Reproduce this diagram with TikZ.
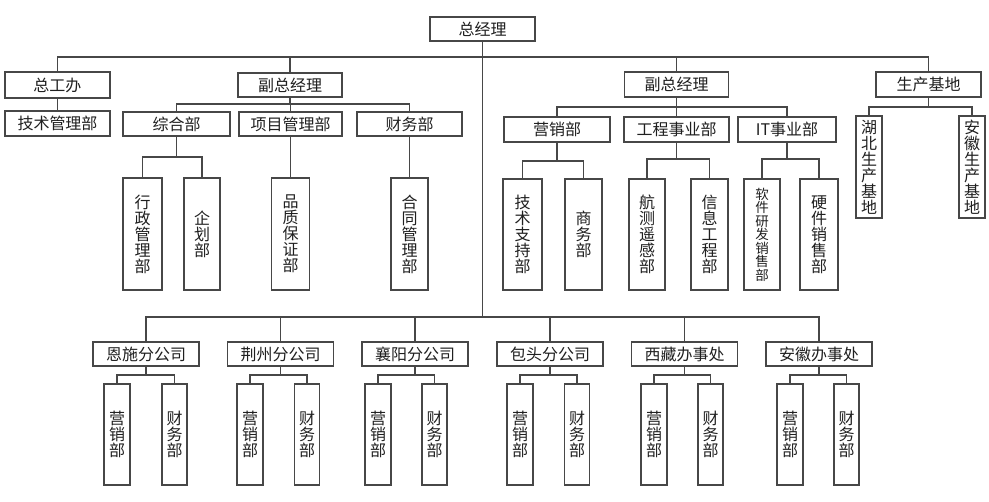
\documentclass[tikz,border=0pt]{standalone}
\usepackage{fontspec}
\newfontfamily\cjk{Noto Sans CJK SC}
\begin{document}
\begin{tikzpicture}[x=1pt,y=-1pt,
  ln/.style={draw=black!72,line width=1.1pt},
  bx/.style={draw=black!72,line width=1.1pt,fill=white,inner sep=0pt,align=center,
    text=black!88,font=\cjk\fontsize{16}{16}\selectfont},
  hb/.style={bx,minimum width=105pt,minimum height=24pt},
  vb/.style={bx,minimum width=37pt,minimum height=111pt},
  sb/.style={bx,minimum width=26pt,minimum height=101pt}]
\useasboundingbox[fill=white] (0,0) rectangle (989,502);
% buses
\coordinate (b0) at (0,57);
\coordinate (b3) at (0,317);
\coordinate (bl) at (0,104);
\coordinate (bzh) at (0,157);
\coordinate (br) at (0,107);
\coordinate (byx) at (0,161);
\coordinate (bgc) at (0,159);
\coordinate (bs) at (0,375);
% top
\node[hb,minimum width=105pt] (zjl) at (482.5,29) {总经理};
\node[hb,minimum height=26pt] (zgb) at (57.5,85) {总工办};
\node[hb,minimum height=25pt] (jsgl) at (57.5,123.5) {技术管理部};
\node[hb,minimum width=104pt] (fzl) at (290,85) {副总经理};
\node[hb,minimum width=107pt] (zhb) at (176.5,124) {综合部};
\node[hb,minimum width=103pt] (xmgl) at (290.5,124) {项目管理部};
\node[hb] (cwb) at (409.5,124) {财务部};
\node[vb,minimum width=39pt,minimum height=112pt] (xzgl) at (142.5,234) {行\\政\\管\\理\\部};
\node[vb,minimum width=36pt,minimum height=112pt] (qhb) at (202,234) {企\\划\\部};
\node[vb,minimum width=38pt,minimum height=112pt] (pzbz) at (290.5,234) {品\\质\\保\\证\\部};
\node[vb,minimum height=112pt] (htgl) at (409.5,234) {合\\同\\管\\理\\部};
% right
\node[hb,minimum width=104pt,minimum height=25pt] (fzr) at (676.5,84.5) {副总经理};
\node[hb,minimum height=25pt] (scjd) at (928.5,84.5) {生产基地};
\node[hb,minimum width=106pt,minimum height=25pt] (yxb) at (557,129.5) {营销部};
\node[hb,minimum height=25pt] (gcsy) at (676.5,129.5) {工程事业部};
\node[hb,minimum width=98pt,minimum height=25pt] (itsy) at (787,129.5) {IT事业部};
\node[vb,minimum width=39pt] (jszc) at (522.5,234.5) {技\\术\\支\\持\\部};
\node[vb] (swb) at (583.5,234.5) {商\\务\\部};
\node[vb,minimum width=36pt] (hcyg) at (647,234.5) {航\\测\\遥\\感\\部};
\node[vb] (xxgc) at (709.5,234.5) {信\\息\\工\\程\\部};
\node[vb,minimum width=36pt,font=\cjk\fontsize{13.5}{13.5}\selectfont] (rjyf) at (762,234.5) {软\\件\\研\\发\\销\\售\\部};
\node[vb,minimum width=38pt] (yjxs) at (819,234.5) {硬\\件\\销\\售\\部};
\node[bx,minimum width=26pt,minimum height=102pt] (hbjd) at (869,167) {湖\\北\\生\\产\\基\\地};
\node[bx,minimum width=26pt,minimum height=102pt] (ahjd) at (972,167) {安\\徽\\生\\产\\基\\地};
% bottom
\node[hb,minimum width=106pt] (es) at (146,354) {恩施分公司};
\node[hb,minimum width=106pt] (jz) at (280.5,354) {荆州分公司};
\node[hb,minimum width=106pt] (xy) at (415,354) {襄阳分公司};
\node[hb,minimum width=106pt] (bt) at (550,354) {包头分公司};
\node[hb,minimum width=106pt] (xz) at (684.5,354) {西藏办事处};
\node[hb,minimum width=106pt] (ahb) at (819,354) {安徽办事处};
\node[sb] (es1) at (117,434.5) {营\\销\\部};
\node[sb,minimum width=25pt] (es2) at (174.5,434.5) {财\\务\\部};
\node[sb] (jz1) at (250,434.5) {营\\销\\部};
\node[sb,minimum width=25pt] (jz2) at (307,434.5) {财\\务\\部};
\node[sb] (xy1) at (378,434.5) {营\\销\\部};
\node[sb,minimum width=25pt] (xy2) at (434.5,434.5) {财\\务\\部};
\node[sb] (bt1) at (520,434.5) {营\\销\\部};
\node[sb,minimum width=25pt] (bt2) at (577,434.5) {财\\务\\部};
\node[sb] (xz1) at (654,434.5) {营\\销\\部};
\node[sb,minimum width=25pt] (xz2) at (710.5,434.5) {财\\务\\部};
\node[sb] (ahb1) at (790,434.5) {营\\销\\部};
\node[sb,minimum width=25pt] (ahb2) at (846.5,434.5) {财\\务\\部};
% connectors top level
\draw[ln] (zgb.north) |- (scjd.north |- b0) -- (scjd.north);
\draw[ln] (fzl.north) -- (fzl.north |- b0);
\draw[ln] (fzr.north) -- (fzr.north |- b0);
\draw[ln] (zjl.south) -- (zjl.south |- b3);
\draw[ln] (zgb.south) -- (jsgl.north);
% left VP
\draw[ln] (fzl.south) -- (fzl.south |- bl);
\draw[ln] (zhb.north) |- (cwb.north |- bl) -- (cwb.north);
\draw[ln] (xmgl.north) -- (xmgl.north |- bl);
\draw[ln] (zhb.south) -- (zhb.south |- bzh);
\draw[ln] (xzgl.north) |- (qhb.north |- bzh) -- (qhb.north);
\draw[ln] (xmgl.south) -- (pzbz.north);
\draw[ln] (cwb.south) -- (htgl.north);
% right VP
\draw[ln] (fzr.south) -- (fzr.south |- br);
\draw[ln] (yxb.north) |- (itsy.north |- br) -- (itsy.north);
\draw[ln] (gcsy.north) -- (gcsy.north |- br);
\draw[ln] (yxb.south) -- (yxb.south |- byx);
\draw[ln] (jszc.north) |- (swb.north |- byx) -- (swb.north);
\draw[ln] (gcsy.south) -- (gcsy.south |- bgc);
\draw[ln] (hcyg.north) |- (xxgc.north |- bgc) -- (xxgc.north);
\draw[ln] (itsy.south) -- (itsy.south |- bgc);
\draw[ln] (rjyf.north) |- (yjxs.north |- bgc) -- (yjxs.north);
\draw[ln] (scjd.south) -- (scjd.south |- br);
\draw[ln] (hbjd.north) |- (ahjd.north |- br) -- (ahjd.north);
% bottom
\draw[ln] (es.north) |- (ahb.north |- b3) -- (ahb.north);
\foreach \p in {jz,xy,bt,xz} {\draw[ln] (\p.north) -- (\p.north |- b3);}
\foreach \p in {es,jz,xy,bt,xz,ahb} {
  \draw[ln] (\p.south) -- (\p.south |- bs);
  \draw[ln] (\p1.north) |- (\p2.north |- bs) -- (\p2.north);
}
\end{tikzpicture}
\end{document}
